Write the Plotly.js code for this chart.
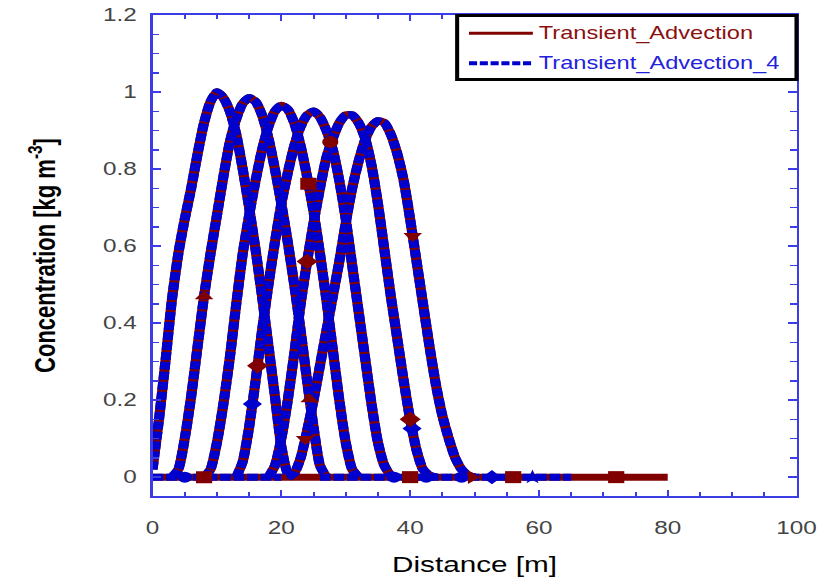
<!DOCTYPE html>
<html>
<head>
<meta charset="utf-8">
<script src="https://cdn.plot.ly/plotly-3.0.1.min.js"></script>
<style>
html,body{margin:0;padding:0;background:#fff;overflow:hidden;}
#wrap{width:818px;height:581px;overflow:hidden;}
#plot{width:606px;height:581px;transform:scaleX(1.35);transform-origin:0 0;}
</style>
</head>
<body>
<div id="wrap"><div id="plot"></div></div>
<script>
// ---- data (Distance [m], Concentration [kg m-3]) ----
const c1X = [0,1,2,3,4,5,6,7,8,9,10,11,12,13,14,15,16,17,18,19,20,21,22];
const c1Y = [0.02,0.15,0.30,0.46,0.58,0.67,0.75,0.84,0.92,0.975,1.0,0.985,0.95,0.89,0.80,0.70,0.59,0.47,0.34,0.21,0.08,0.01,0];

const c2X = [3,4,5,6,7,8,9,10,11,12,13,14,15,16,17,18,19,20,21,22,23,24,25,26,27];
const c2Y = [0,0.02,0.10,0.21,0.34,0.47,0.58,0.68,0.78,0.87,0.93,0.97,0.985,0.975,0.94,0.88,0.80,0.71,0.61,0.50,0.38,0.25,0.13,0.03,0];

const c3X = [8,9,10,11,12,13,14,15,16,17,18,19,20,21,22,23,24,25,26,27,28,29,30,31,32];
const c3Y = [0,0.02,0.09,0.19,0.31,0.45,0.58,0.68,0.77,0.85,0.91,0.95,0.965,0.955,0.92,0.86,0.78,0.69,0.58,0.46,0.33,0.20,0.09,0.02,0];

const c4X = [13,14,15,16,17,18,19,20,21,22,23,24,25,26,27,28,29,30,31,32,33,34,35,36,37,38];
const c4Y = [0,0.04,0.13,0.25,0.38,0.50,0.61,0.71,0.79,0.86,0.91,0.94,0.95,0.935,0.90,0.85,0.77,0.67,0.55,0.43,0.31,0.19,0.09,0.03,0.005,0];

const c5X = [18,19,20,21,22,23,24,25,26,27,28,29,30,31,32,33,34,35,36,37,38,39,40,41,42,43,44];
const c5Y = [0,0.03,0.10,0.20,0.32,0.45,0.56,0.66,0.75,0.83,0.88,0.92,0.94,0.94,0.92,0.88,0.81,0.71,0.59,0.47,0.36,0.25,0.15,0.07,0.02,0.005,0];

const c6X = [21,22,23,24,25,26,27,28,29,30,31,32,33,34,35,36,37,38,39,40,41,42,43,44,45,46,47,48,49,50];
const c6Y = [0,0.01,0.05,0.12,0.20,0.29,0.38,0.47,0.56,0.66,0.75,0.82,0.875,0.91,0.925,0.92,0.89,0.84,0.77,0.67,0.56,0.45,0.34,0.24,0.16,0.10,0.05,0.02,0.005,0];

const redBaseX = [0, 80];
const redBaseY = [0, 0];
const blueBaseX = [0, 20, null, 26, 65];
const blueBaseY = [0, 0, null, 0, 0];

// sparse symbols drawn on the curves
const redMarkCurve  = ['c2','c2','c3','c3','c4','c4','c5','c5','c6','c6','base','base','base','base'];
const redMarkX      = [8, 24.4, 8, 24.2, 16.3, 27.6, 24, 40, 23.7, 40.4, 40, 49.6, 56, 72];
const redMarkSymbol = ['triangle-up','triangle-up','square','square','diamond','circle','diamond','diamond','triangle-down','triangle-down','square','triangle-right','square','square'];

const blueMarkCurve  = ['c4','c5','base','base','base','base','base','base'];
const blueMarkX      = [15.5, 40.3, 5, 37.5, 42.5, 48, 52.7, 59];
const blueMarkSymbol = ['diamond','diamond','circle','circle','circle','circle','diamond','star'];

const seriesNames = ['Transient_Advection', 'Transient_Advection_4'];

// ---- build ----
const curves = {c1:[c1X,c1Y], c2:[c2X,c2Y], c3:[c3X,c3Y], c4:[c4X,c4Y], c5:[c5X,c5Y], c6:[c6X,c6Y], base:[redBaseX, redBaseY]};
function interp(xs, ys, x){
  for (let i=0;i<xs.length-1;i++){
    if (x>=xs[i] && x<=xs[i+1]) {
      const t=(x-xs[i])/(xs[i+1]-xs[i]);
      return ys[i]+t*(ys[i+1]-ys[i]);
    }
  }
  return ys[ys.length-1];
}
const RED = '#800000', BLUE = '#0000cc', AXIS = '#3c3ce6';
const FONT = 'Liberation Sans, Arial, Helvetica, sans-serif';
const order = ['c1','c2','c3','c4','c5','c6'];

const traces = [];
traces.push({x:redBaseX, y:redBaseY, mode:'lines', line:{color:RED, width:7}, showlegend:false, hoverinfo:'skip'});
order.forEach(k => traces.push({x:curves[k][0], y:curves[k][1], mode:'lines', name:seriesNames[0],
  line:{color:RED, width:7.5, shape:'spline', smoothing:0.6}, showlegend:false}));
traces.push({x:blueBaseX, y:blueBaseY, mode:'lines', line:{color:BLUE, width:7, dash:'8px,2px'}, showlegend:false, connectgaps:false});
order.forEach(k => traces.push({x:curves[k][0], y:curves[k][1], mode:'lines', name:seriesNames[1],
  line:{color:BLUE, width:7.5, dash:'8px,2px', shape:'spline', smoothing:0.6}, showlegend:false}));
traces.push({x:blueMarkX, y:blueMarkX.map((x,i)=>interp(curves[blueMarkCurve[i]][0], curves[blueMarkCurve[i]][1], x)),
  mode:'markers', marker:{color:BLUE, size:11, symbol:blueMarkSymbol}, showlegend:false});
traces.push({x:redMarkX, y:redMarkX.map((x,i)=>interp(curves[redMarkCurve[i]][0], curves[redMarkCurve[i]][1], x)),
  mode:'markers', marker:{color:RED, size:12, symbol:redMarkSymbol}, showlegend:false});

const layout = {
  width:606, height:581,
  margin:{l:113, r:16, t:15, b:85},
  paper_bgcolor:'#fff', plot_bgcolor:'#fff',
  font:{family:FONT, color:'#000'},
  showlegend:false,
  xaxis:{
    range:[0,100], tickmode:'linear', tick0:0, dtick:20,
    ticks:'inside', ticklen:6, tickwidth:1.5, tickcolor:AXIS,
    showline:true, linecolor:AXIS, linewidth:2, mirror:'allticks',
    showgrid:false, zeroline:false,
    minor:{tickmode:'linear', tick0:0, dtick:5, ticks:'inside', ticklen:4, tickwidth:1.5, tickcolor:AXIS, showgrid:false},
    tickfont:{family:FONT, size:18, color:'#444'},
    ticklabelstandoff:14,
    title:{text:'Distance [m]', font:{family:FONT, size:22, color:'#000'}, standoff:20}
  },
  yaxis:{
    range:[-0.049,1.2], tickmode:'linear', tick0:0, dtick:0.2,
    ticks:'inside', ticklen:6, tickwidth:1.5, tickcolor:AXIS,
    showline:true, linecolor:AXIS, linewidth:2, mirror:'allticks',
    showgrid:false, zeroline:false,
    minor:{tickmode:'linear', tick0:0, dtick:0.05, ticks:'inside', ticklen:5, tickwidth:1.5, tickcolor:AXIS, showgrid:false},
    tickfont:{family:FONT, size:18, color:'#444'},
    ticklabelstandoff:6,
    title:{text:'<b>Concentration [kg m<sup>-3</sup>]</b>', font:{family:FONT, size:22, color:'#000'}, standoff:29}
  },
  shapes:[
    {type:'rect', xref:'paper', yref:'paper', x0:0.473, x1:1.0, y0:0.866, y1:0.999, line:{color:'#000', width:3}, fillcolor:'#fff', layer:'above'},
    {type:'line', xref:'paper', yref:'paper', x0:0.4914, x1:0.5906, y0:0.962, y1:0.962, line:{color:RED, width:3}, layer:'above'},
    {type:'line', xref:'paper', yref:'paper', x0:0.4914, x1:0.5906, y0:0.8997, y1:0.8997, line:{color:BLUE, width:4, dash:'6px,2px'}, layer:'above'}
  ],
  annotations:[
    {xref:'paper', yref:'paper', x:0.596, y:0.962, xanchor:'left', yanchor:'middle', showarrow:false,
     text:seriesNames[0], font:{family:FONT, size:17.5, color:'#8b1010'}},
    {xref:'paper', yref:'paper', x:0.596, y:0.8997, xanchor:'left', yanchor:'middle', showarrow:false,
     text:seriesNames[1], font:{family:FONT, size:17.5, color:'#2222dd'}}
  ]
};
Plotly.newPlot('plot', traces, layout, {displayModeBar:false, staticPlot:true, responsive:false});
</script>
</body>
</html>
